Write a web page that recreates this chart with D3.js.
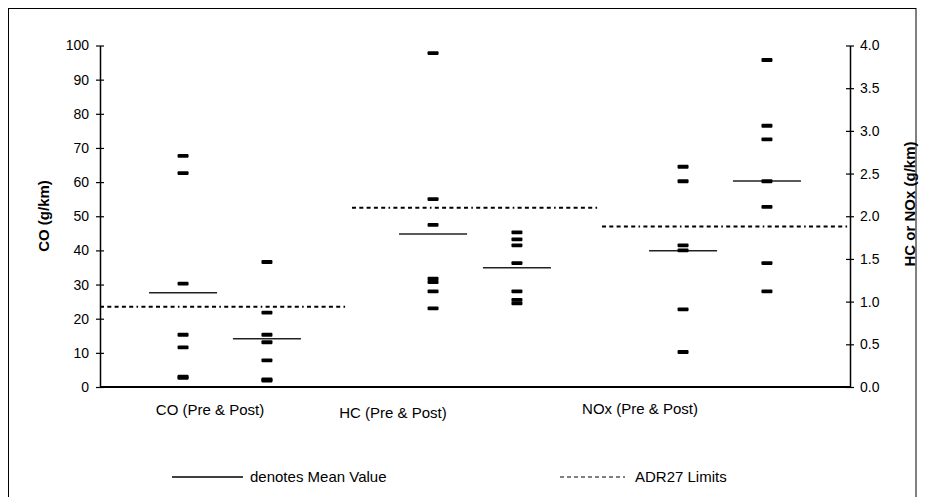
<!DOCTYPE html>
<html>
<head>
<meta charset="utf-8">
<script src="https://cdn.jsdelivr.net/npm/d3@7"></script>
<style>
  html, body { margin: 0; padding: 0; background: #fff; }
  svg { display: block; font-family: "Liberation Sans", Arial, sans-serif; }
</style>
</head>
<body>
<svg id="chart" width="925" height="497"></svg>
<script>
// Emission test results, g/km, before and after
const categories = ["CO (Pre & Post)", "HC (Pre & Post)", "NOx (Pre & Post)"];
const phases = ["Pre", "Post"];
const coPre   = [67.7, 62.6, 30.3, 15.3, 11.6, 3.0, 2.7];
const coPost  = [36.6, 21.8, 15.3, 13.1, 7.8, 2.2, 1.9];
const hcPre   = [3.91, 2.20, 1.90, 1.27, 1.23, 1.12, 0.92];
const hcPost  = [1.81, 1.73, 1.66, 1.45, 1.12, 1.02, 0.98];
const noxPre  = [2.58, 2.41, 1.66, 1.60, 0.91, 0.41];
const noxPost = [3.83, 3.06, 2.90, 2.41, 2.11, 1.45, 1.12];
// ADR27 limits: CO on the left axis, HC and NOx on the right axis
const limits = [23.5, 2.1, 1.88];
const leftTicks  = d3.range(0, 101, 10);
const rightTicks = [0, 0.5, 1, 1.5, 2, 2.5, 3, 3.5, 4];
const legendLabels = ["denotes Mean Value", "ADR27 Limits"];

const seriesByCat = [[coPre, coPost], [hcPre, hcPost], [noxPre, noxPost]];

const svg = d3.select("#chart");
const m = { left: 100, right: 850, top: 45.5, bottom: 387 };
const FONT = "Liberation Sans, Arial, sans-serif";

// outer frame
svg.append("rect")
  .attr("x", 8.5).attr("y", 8.5).attr("width", 907.5).attr("height", 500)
  .attr("fill", "none").attr("stroke", "#000").attr("stroke-width", 1);

const x = d3.scaleBand().domain(categories).range([m.left, m.right]).padding(0);
const sub = d3.scalePoint().domain(phases).range([0, x.bandwidth()]).padding(0.99);
const yL = d3.scaleLinear().domain([0, 100]).range([m.bottom, m.top]);
const yR = d3.scaleLinear().domain([0, 4]).range([m.bottom, m.top]);
const yFor = i => (i === 0 ? yL : yR);

// left axis
const gL = svg.append("g").attr("transform", `translate(${m.left},0)`)
  .call(d3.axisLeft(yL).tickValues(leftTicks).tickSizeInner(4).tickSizeOuter(0).tickPadding(7));
gL.select(".domain").attr("stroke-width", 1.5);
gL.selectAll(".tick line").attr("x1", 4).attr("stroke-width", 1.2);
gL.selectAll(".tick text").attr("font-size", 14).attr("font-family", FONT).attr("fill", "#000");

// right axis
const gR = svg.append("g").attr("transform", `translate(${m.right},0)`)
  .call(d3.axisRight(yR).tickValues(rightTicks).tickFormat(d3.format(".1f")).tickSizeInner(4).tickSizeOuter(0).tickPadding(6));
gR.select(".domain").attr("stroke-width", 1.5);
gR.selectAll(".tick line").attr("x1", -4).attr("stroke-width", 1.2);
gR.selectAll(".tick text").attr("font-size", 14).attr("font-family", FONT).attr("fill", "#000");

// baseline
svg.append("line")
  .attr("x1", m.left).attr("x2", m.right)
  .attr("y1", m.bottom).attr("y2", m.bottom)
  .attr("stroke", "#000").attr("stroke-width", 2);

// axis titles
svg.append("text")
  .attr("transform", `translate(49,216) rotate(-90)`)
  .attr("text-anchor", "middle").attr("font-size", 15).attr("font-weight", "bold")
  .text("CO (g/km)");
svg.append("text")
  .attr("transform", `translate(915,204) rotate(-90)`)
  .attr("text-anchor", "middle").attr("font-size", 15).attr("font-weight", "bold")
  .text("HC or NOx (g/km)");

// category labels
const labelShift = [-15, -82, -85];
const labelBase = [415, 418, 414];
svg.append("g").selectAll("text").data(categories).join("text")
  .attr("x", (d, i) => x(d) + x.bandwidth() / 2 + labelShift[i])
  .attr("y", (d, i) => labelBase[i])
  .attr("text-anchor", "middle").attr("font-size", 15)
  .text(d => d);

// limit lines
const limitDash = "4,3.3,4,3.3,4,3.3,4,3.3,4,3.3,1.6,3.3";
svg.append("g").selectAll("line").data(categories).join("line")
  .attr("x1", (d, i) => x(d) + (i === 0 ? 0 : 2))
  .attr("x2", (d, i) => x(d) + x.bandwidth() - (i === 2 ? 0 : 2))
  .attr("y1", (d, i) => yFor(i)(limits[i]))
  .attr("y2", (d, i) => yFor(i)(limits[i]))
  .attr("stroke", "#000").attr("stroke-width", 2)
  .attr("stroke-dasharray", limitDash);

// individual results and their means
const markW = 11, markH = 3.8, meanHalf = 34;
categories.forEach((cat, i) => {
  const y = yFor(i);
  phases.forEach((ph, j) => {
    const vals = seriesByCat[i][j];
    const cx = x(cat) + sub(ph);
    svg.append("line")
      .attr("x1", cx - meanHalf).attr("x2", cx + meanHalf)
      .attr("y1", y(d3.mean(vals))).attr("y2", y(d3.mean(vals)))
      .attr("stroke", "#222").attr("stroke-width", 1.5);
    svg.append("g").selectAll("rect").data(vals).join("rect")
      .attr("x", cx - markW / 2)
      .attr("y", d => y(d) - markH / 2)
      .attr("width", markW).attr("height", markH)
      .attr("rx", 1).attr("fill", "#000");
  });
});

// legend
const lg = svg.append("g");
lg.append("line").attr("x1", 172).attr("x2", 243).attr("y1", 477).attr("y2", 477)
  .attr("stroke", "#000").attr("stroke-width", 1.3);
lg.append("text").attr("x", 250).attr("y", 482).attr("font-size", 15).text(legendLabels[0]);
lg.append("line").attr("x1", 560).attr("x2", 625).attr("y1", 477).attr("y2", 477)
  .attr("stroke", "#000").attr("stroke-width", 1).attr("stroke-dasharray", "4,3");
lg.append("text").attr("x", 635).attr("y", 482).attr("font-size", 15).text(legendLabels[1]);
</script>
</body>
</html>
